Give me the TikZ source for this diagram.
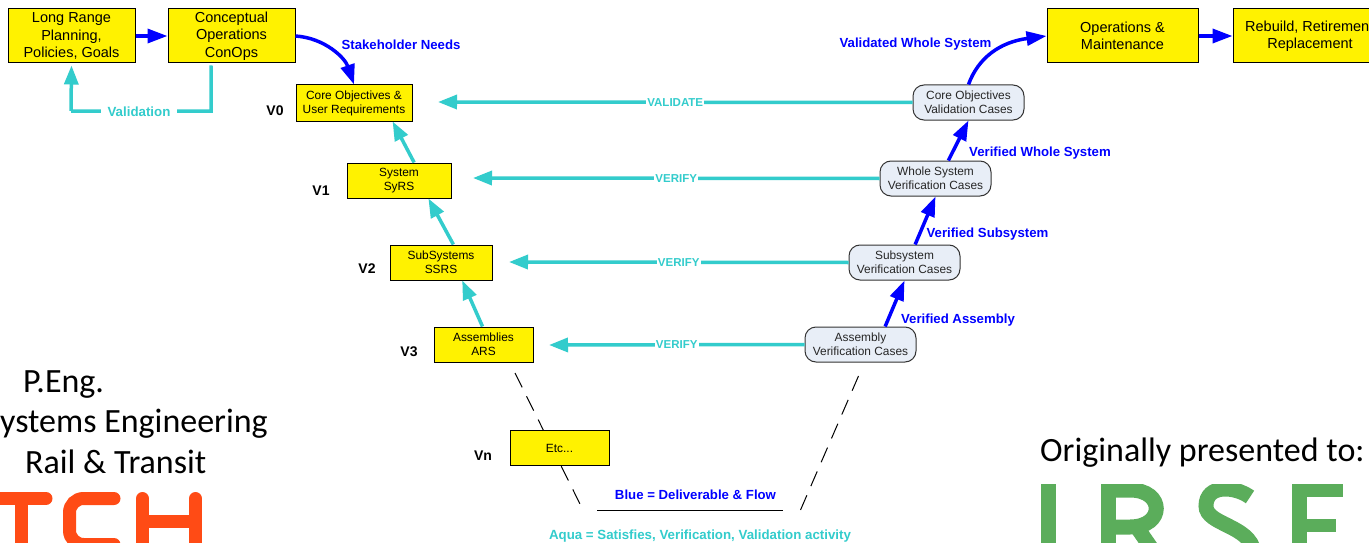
\documentclass[tikz,border=0pt]{standalone}
\usepackage{fontspec}
\setmainfont{Liberation Sans}
\newfontfamily\calfont{Carlito}
\usetikzlibrary{arrows.meta,calc}
\definecolor{aqua}{HTML}{33CCCC}
\definecolor{flow}{HTML}{0000FF}
\definecolor{casefill}{HTML}{E8EEF7}
\definecolor{tchorange}{HTML}{FF4B15}
\definecolor{irsegreen}{HTML}{5BAD5B}
\tikzset{
  bigbox/.style={draw=black,fill=yellow,line width=1pt,inner sep=0pt,minimum width=#1,minimum height=54pt,align=center,font=\fontsize{14.5}{17.5}\selectfont},
  smallbox/.style={draw=black,fill=yellow,line width=1pt,inner sep=0pt,minimum width=#1,minimum height=35pt,align=center,font=\fontsize{11.9}{14}\selectfont},
  casebox/.style={draw=black!80,fill=casefill,line width=1pt,inner sep=0pt,rounded corners=11pt,minimum width=#1,minimum height=35pt,align=center,font=\fontsize{11.9}{14}\selectfont,text=black!85},
  blueflow/.style={draw=flow,line width=3.5pt,-{Triangle[length=20pt,width=14pt]}},
  aquaflow/.style={draw=aqua,line width=3.5pt,-{Triangle[length=19pt,width=14pt]}},
  aquaplain/.style={draw=aqua,line width=3.5pt},
  flowlabel/.style={text=flow,font=\fontsize{13.2}{15}\selectfont\bfseries,inner sep=0pt},
  aqualabel/.style={text=aqua,font=\fontsize{13.3}{15}\selectfont\bfseries,inner sep=0pt},
  checklabel/.style={text=aqua,fill=white,font=\fontsize{11.5}{14}\selectfont\bfseries,inner sep=1pt},
  vlabel/.style={font=\fontsize{14}{16}\selectfont\bfseries,inner sep=0pt},
  dashline/.style={draw=black,line width=1pt,dash pattern=on 16pt off 10pt},
  calitext/.style={font=\fontsize{34}{38}\selectfont\calfont,inner sep=0pt,text=black},
  logoT/.style={draw=tchorange,line width=13pt,line cap=round},
  logoI/.style={draw=irsegreen,line width=15pt},
}
\begin{document}
\begin{tikzpicture}[x=1pt,y=-1pt]
\useasboundingbox (0,0) rectangle (1369,543);
\fill[white] (0,0) rectangle (1369,543);

% free-end coordinates
\coordinate (dashAa) at (515,373);
\coordinate (dashAb) at (582,508);
\coordinate (dashBa) at (858.5,376);
\coordinate (dashBb) at (800.5,510);
\coordinate (baseA) at (597,510.5);
\coordinate (baseB) at (783,510.5);
\coordinate (tipzero) at (438,102);
\coordinate (tipone) at (473,178);
\coordinate (tiptwo) at (509,262);
\coordinate (tipthree) at (549,345);
\coordinate (bendA) at (211,111);
\coordinate (bendB) at (71,111);

% dashed V sides
\draw[dashline] (dashAa) -- (dashAb);
\draw[dashline] (dashBa) -- (dashBb);
\draw[draw=black,line width=1pt] (baseA) -- (baseB);

% boxes
\node[bigbox=127pt] (longrange) at (71.5,36) {Long Range\\Planning,\\Policies, Goals};
\node[bigbox=127pt] (conops) at (231.5,36) {Conceptual\\Operations\\ConOps};
\node[bigbox=151pt] (opsmaint) at (1122.5,36) {Operations \&\\Maintenance};
\node[bigbox=142pt] (rebuild) at (1304,36) {};
\node[font=\fontsize{14.5}{17.5}\selectfont,inner sep=0pt,anchor=west] (rebuildone) at (1245,27) {Rebuild, Retiremen};
\node[font=\fontsize{14.5}{17.5}\selectfont,inner sep=0pt] (rebuildtwo) at (1310,45) {Replacement};

\node[smallbox=116pt,minimum height=36pt] (corereq) at (354,103) {Core Objectives \&\\User Requirements};
\node[smallbox=104pt] (sysrs) at (399,180.5) {System\\SyRS};
\node[smallbox=102pt] (ssrs) at (441,262.5) {SubSystems\\SSRS};
\node[smallbox=99pt] (ars) at (483.5,344.5) {Assemblies\\ARS};
\node[smallbox=99pt] (etc) at (559.5,448) {Etc...};

\node[casebox=111pt] (coreval) at (968.5,102.5) {Core Objectives\\Validation Cases};
\node[casebox=111pt] (wholever) at (935.5,178.5) {Whole System\\Verification Cases};
\node[casebox=111pt] (subver) at (904.5,262.5) {Subsystem\\Verification Cases};
\node[casebox=111pt] (assver) at (860.5,344.5) {Assembly\\Verification Cases};

% blue flows
\draw[blueflow] (longrange.east) -- (conops.west);
\draw[blueflow] (opsmaint.east) -- (rebuild.west);
\draw[blueflow] (conops.east) .. controls (325,38) and (345,58) .. (corereq.north);
\draw[blueflow] (coreval.north) .. controls (978,58) and (1000,42) .. (opsmaint.west);
\draw[blueflow] ($(assver.north west)!0.72!(assver.north east)$) -- (subver.south);
\draw[blueflow] ($(subver.north west)!0.595!(subver.north east)$) -- (wholever.south);
\draw[blueflow] ($(wholever.north west)!0.615!(wholever.north east)$) -- (coreval.south);

% aqua flows
\draw[aquaflow] ($(sysrs.north west)!0.644!(sysrs.north east)$) -- ($(corereq.south west)!0.83!(corereq.south east)$);
\draw[aquaflow] ($(ssrs.north west)!0.62!(ssrs.north east)$) -- ($(sysrs.south west)!0.78!(sysrs.south east)$);
\draw[aquaflow] ($(ars.north west)!0.49!(ars.north east)$) -- ($(ssrs.south west)!0.706!(ssrs.south east)$);
\draw[aquaflow] (coreval.west) -- node[checklabel] (lblvalidate) {VALIDATE} (tipzero);
\draw[aquaflow] (wholever.west) -- node[checklabel] (lblverone) {VERIFY} (tipone);
\draw[aquaflow] (subver.west) -- node[checklabel] (lblvertwo) {VERIFY} (tiptwo);
\draw[aquaflow] (assver.west) -- node[checklabel] (lblverthree) {VERIFY} (tipthree);

% validation loop
\draw[aquaplain] ($(conops.south west)!0.34!(conops.south east)+(0,2)$) -- (bendA) -- (bendB |- bendA);
\draw[aquaflow] (bendB) -- ($(longrange.south)+(0,2)$);
\node[aqualabel,fill=white,inner xsep=7pt,inner ysep=1pt] (lblvalidation) at (139,111.5) {Validation};

% flow labels
\node[flowlabel] (lblstake) at (401,44.5) {Stakeholder Needs};
\node[flowlabel] (lblvalwhole) at (915.5,44.5) {Validated Whole System};
\node[flowlabel] (lblverwhole) at (1040,153) {Verified Whole System};
\node[flowlabel] (lblversub) at (987.5,234) {Verified Subsystem};
\node[flowlabel] (lblverass) at (958,320) {Verified Assembly};
\node[flowlabel] (lblblue) at (695.5,494.5) {Blue = Deliverable \& Flow};
\node[aqualabel] (lblaqua) at (700,536) {Aqua = Satisfies, Verification, Validation activity};

% level labels
\node[vlabel] (vzero) at (275,111) {V0};
\node[vlabel] (vone) at (321,191) {V1};
\node[vlabel] (vtwo) at (367,269) {V2};
\node[vlabel] (vthree) at (409,352) {V3};
\node[vlabel] (vn) at (483,456) {Vn};

% presenter texts
\node[calitext,anchor=base west] (peng) at (23,392) {P.Eng.};
\node[calitext,anchor=base west] (syseng) at (0,432) {ystems Engineering};
\node[calitext,anchor=base west] (railtransit) at (25,473) {Rail \& Transit};
\node[calitext,anchor=base west] (origin) at (1040,461) {Originally presented to:};

% TCH logo
\draw[logoT] (-10,498.5) -- (46,498.5);
\draw[logoT,line cap=butt] (21.5,498) -- (21.5,550);
\draw[logoT,rounded corners=14pt] (114,498.5) -- (69.5,498.5) -- (69.5,544.5) -- (114,544.5);
\draw[logoT] (142.5,498.5) -- (142.5,560);
\draw[logoT] (195.5,498.5) -- (195.5,560);
\draw[logoT,line cap=butt] (142.5,521) -- (195.5,521);

% IRSE logo
\begin{scope}
\clip (1030,484) rectangle (1369,543);
\draw[logoI] (1048.5,470) -- (1048.5,550);
\draw[logoI] (1108.5,470) -- (1108.5,550);
\draw[logoI] (1108,490) -- (1130,490) .. controls (1165,490) and (1165,527) .. (1130,527) -- (1108,527);
\draw[logoI] (1136,526) -- (1154,552);
\draw[logoI] (1250,497) .. controls (1235,486) and (1206,484) .. (1206,506) .. controls (1206,525) and (1250,525) .. (1254,552);
\draw[logoI] (1299.5,470) -- (1299.5,550);
\fill[irsegreen] (1292,484) rectangle (1343,497);
\fill[irsegreen] (1292,519) rectangle (1336,532);
\end{scope}
\end{tikzpicture}
\end{document}
